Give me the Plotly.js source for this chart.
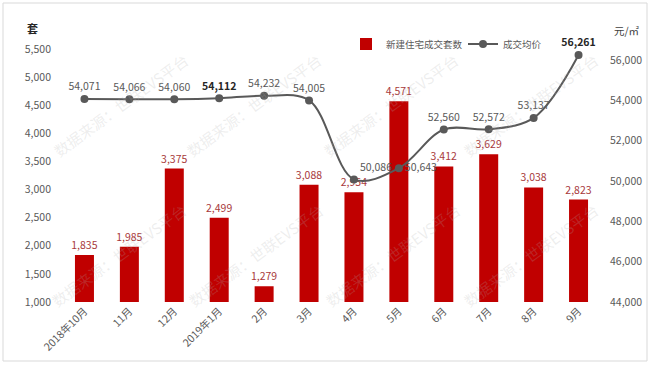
<!DOCTYPE html>
<html>
<head>
<meta charset="utf-8">
<script src="https://cdn.plot.ly/plotly-3.0.1.min.js"></script>
<style>html,body{margin:0;padding:0;background:#fff;}#chart{width:650px;height:365px;}</style>
</head>
<body>
<div id="chart"></div>
<script>
// ---- data ----
const categories = ['2018年10月','11月','12月','2019年1月','2月','3月','4月','5月','6月','7月','8月','9月'];
const unitsSold = [1835,1985,3375,2499,1279,3088,2954,4571,3412,3629,3038,2823];
const avgPrice = [54071,54066,54060,54112,54232,54005,50086,50643,52560,52572,53137,56261];
const leftTicks = [1000,1500,2000,2500,3000,3500,4000,4500,5000,5500];
const rightTicks = [44000,46000,48000,50000,52000,54000,56000];
const seriesNames = ['新建住宅成交套数','成交均价'];
const watermark = '数据来源：世联EVS平台';

// ---- layout helpers ----
const W = 650, H = 365, ML = 62, MR = 49, MT = 30, MB = 63;
const PW = W - ML - MR, PH = H - MT - MB;
const px2x = x => (x - ML) / PW;
const px2y = y => 1 - (y - MT) / PH;
const FONT = '"Noto Sans CJK SC", "Noto Sans", sans-serif';

const priceTextPos = avgPrice.map((v, i) => (i === 6 ? 'top right' : (i === 7 ? 'middle right' : 'top center')));
const priceTextColor = avgPrice.map((v, i) => (i === 3 || i === 11 ? '#262626' : '#595959'));
const priceTextWeight = avgPrice.map((v, i) => (i === 3 || i === 11 ? 700 : 400));

const traces = [
  {
    type: 'bar', name: seriesNames[0], x: categories, y: unitsSold,
    marker: {color: '#C00000'},
    texttemplate: '%{y:,}', textposition: 'outside', cliponaxis: false, constraintext: 'none',
    textfont: {family: FONT, size: 10.5, color: '#A8393B'},
    hoverinfo: 'skip'
  },
  {
    type: 'scatter', mode: 'lines+markers+text', name: seriesNames[1],
    x: categories, y: avgPrice, yaxis: 'y2',
    line: {color: '#595959', width: 2, shape: 'spline', smoothing: 1},
    marker: {color: '#595959', size: 8},
    texttemplate: '%{y:,}', textposition: priceTextPos, cliponaxis: false,
    textfont: {family: FONT, size: 10.5, color: priceTextColor, weight: priceTextWeight},
    hoverinfo: 'skip'
  }
];

const wmCenters = [[120,105],[253,105],[390,105],[530,105],[118,255],[255,255],[392,255],[530,255]];
const annotations = wmCenters.map(c => ({
  xref: 'paper', yref: 'paper', x: px2x(c[0]), y: px2y(c[1]), xanchor: 'center', yanchor: 'middle',
  text: watermark, showarrow: false, textangle: -36,
  font: {family: FONT, size: 15, color: 'rgba(175,175,175,0.22)'}
}));
annotations.push({xref: 'paper', yref: 'paper', x: px2x(32), y: px2y(28), xanchor: 'center', yanchor: 'middle',
  text: '套', showarrow: false, font: {family: FONT, size: 11, color: '#262626', weight: 700}});
annotations.push({xref: 'paper', yref: 'paper', x: px2x(627), y: px2y(30), xanchor: 'center', yanchor: 'middle',
  text: '元/㎡', showarrow: false, font: {family: FONT, size: 10.5, color: '#404040'}});

const layout = {
  width: W, height: H, autosize: false,
  margin: {l: ML, r: MR, t: MT, b: MB, pad: 0, autoexpand: false},
  paper_bgcolor: '#ffffff', plot_bgcolor: '#ffffff',
  font: {family: FONT, size: 10.5, color: '#595959'},
  bargap: 0.577,
  showlegend: true,
  legend: {orientation: 'h', x: px2x(346), y: px2y(44), xanchor: 'left', yanchor: 'middle',
    entrywidth: 72, entrywidthmode: 'pixels',
    bgcolor: 'rgba(0,0,0,0)', font: {family: FONT, size: 9.5, color: '#595959'}, traceorder: 'normal'},
  xaxis: {type: 'category', range: [-0.5, categories.length - 0.5], tickangle: -45, showgrid: false,
    zeroline: false, showline: false, ticks: '', automargin: false,
    tickfont: {family: FONT, size: 10.5, color: '#595959'}},
  yaxis: {range: [1000, 5840], tickvals: leftTicks, tickformat: ',', showgrid: false, zeroline: false,
    showline: false, ticks: '', automargin: false, ticklabelstandoff: 10,
    tickfont: {family: FONT, size: 10.5, color: '#595959'}},
  yaxis2: {range: [44000, 57500], tickvals: rightTicks, tickformat: ',', overlaying: 'y', side: 'right',
    showgrid: false, zeroline: false, showline: false, ticks: '', automargin: false, ticklabelstandoff: 8,
    tickfont: {family: FONT, size: 10.5, color: '#595959'}},
  annotations: annotations,
  shapes: [{type: 'rect', xref: 'paper', yref: 'paper', x0: px2x(3), x1: px2x(647), y0: px2y(361), y1: px2y(3),
    line: {color: '#d9d9d9', width: 1}, layer: 'below'}]
};

Plotly.newPlot('chart', traces, layout, {staticPlot: true, displayModeBar: false});
</script>
</body>
</html>
